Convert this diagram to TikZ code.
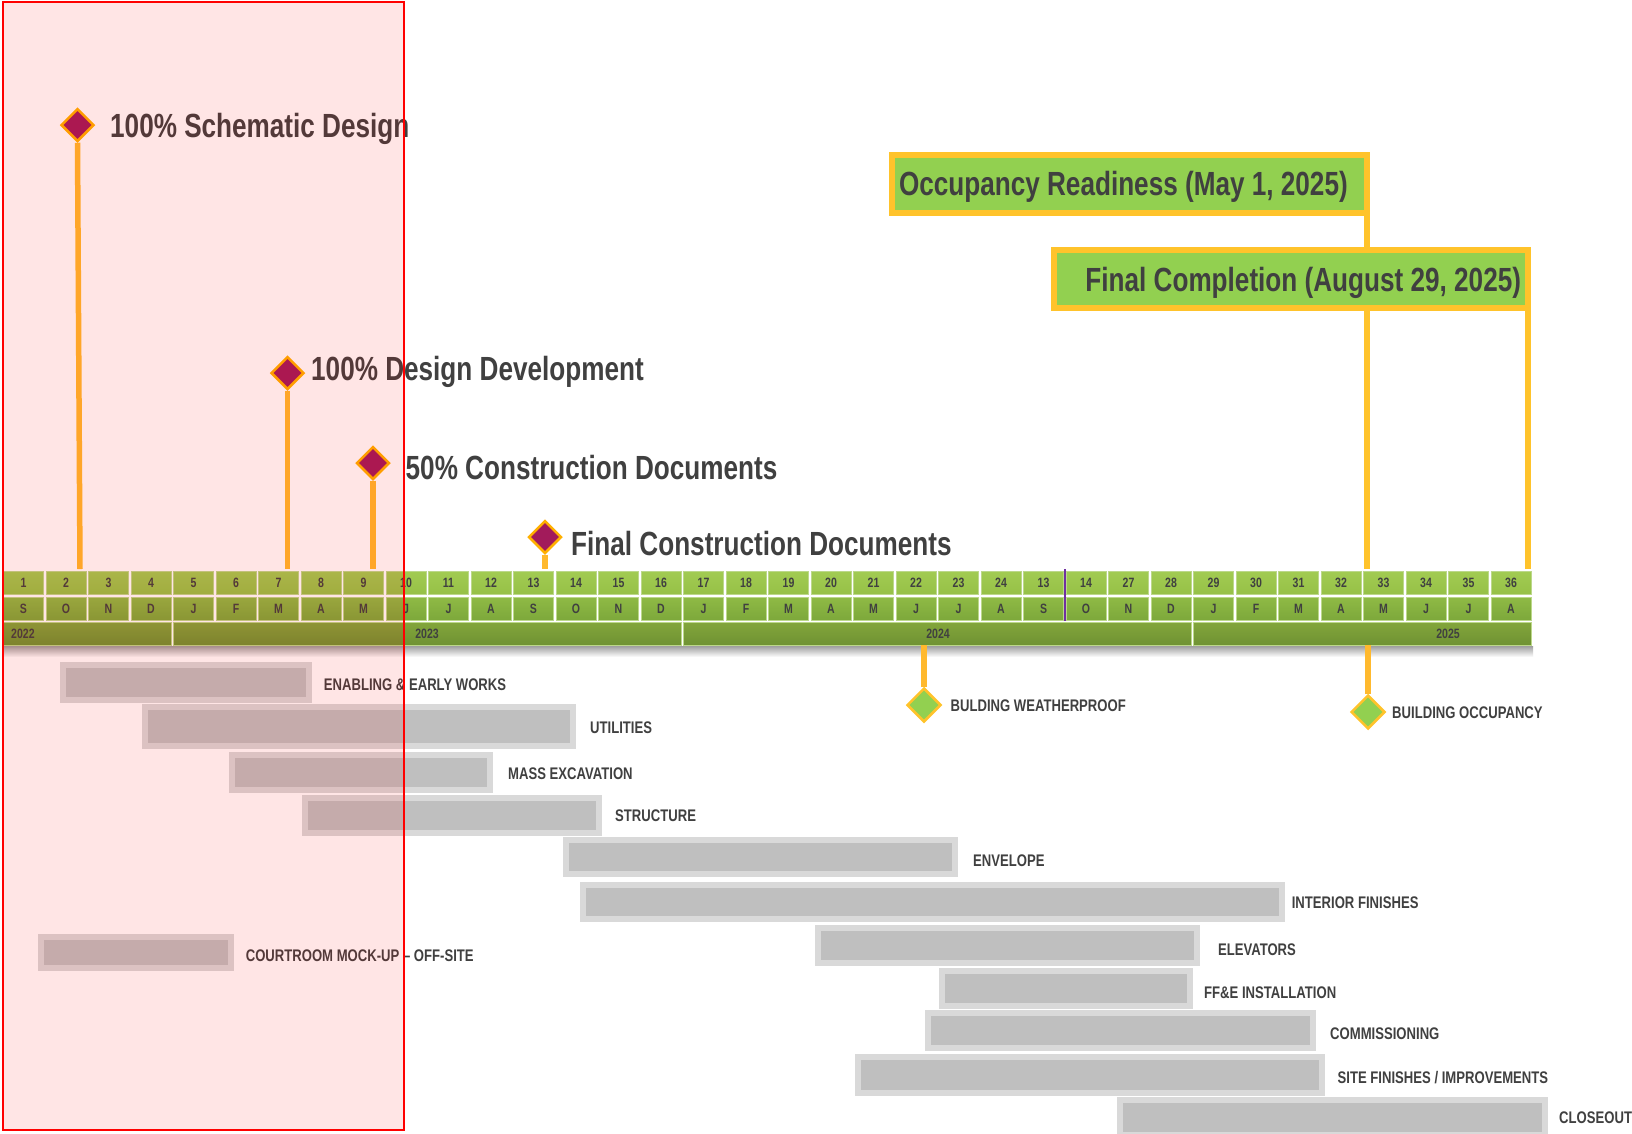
\documentclass[tikz,border=0pt]{standalone}
\usepackage{fontspec}
\usetikzlibrary{shapes.geometric}
\newfontfamily\narb[FakeStretch=0.78]{Liberation Sans Bold}
\definecolor{txt}{HTML}{404040}
\definecolor{purp}{HTML}{A21B5B}
\definecolor{orng}{HTML}{FFB000}
\definecolor{stemc}{HTML}{FFB92E}
\definecolor{boxo}{HTML}{FFC32B}
\definecolor{grn}{HTML}{92D050}
\definecolor{barin}{HTML}{BFBFBF}
\definecolor{barout}{HTML}{D9D9D9}
\definecolor{rAt}{HTML}{A2CB52}
\definecolor{rAb}{HTML}{96C147}
\definecolor{rBt}{HTML}{8FBA45}
\definecolor{rBb}{HTML}{7DA83B}
\definecolor{rCt}{HTML}{83A63B}
\definecolor{rCb}{HTML}{6F9233}
\definecolor{cellb}{HTML}{BCD88A}
\definecolor{divp}{HTML}{7030A0}
\begin{document}
\begin{tikzpicture}[x=1pt,y=-1pt,
  ms/.style={font={\narb\fontsize{33.5}{36}\selectfont}, text=txt, inner sep=0, anchor=base west},
  lab/.style={font={\narb\fontsize{16.8}{18}\selectfont}, text=txt, inner sep=0, anchor=base west},
  pdia/.style={diamond, aspect=1, fill=purp, draw=orng, line width=2.5, inner sep=0, minimum width=33, minimum height=33},
  gdia/.style={diamond, aspect=1, fill=grn, draw=boxo, line width=2.5, inner sep=0, minimum width=34, minimum height=34},
  stem/.style={draw=stemc, line width=5.5},
  conn/.style={draw=boxo, line width=5.5},
  bigbox/.style={rectangle, fill=grn, draw=boxo, line width=6, outer sep=0, inner ysep=0, inner xsep=7, minimum height=58,
     font={\narb\fontsize{33.5}{36}\selectfont}, text=txt},
  cellA/.style={rectangle, top color=rAt, bottom color=rAb, draw=cellb, line width=0.8, minimum width=40, minimum height=23, inner sep=0,
     font={\narb\fontsize{13.5}{14}\selectfont}, text=txt},
  cellB/.style={cellA, top color=rBt, bottom color=rBb},
  yearbar/.style={rectangle, top color=rCt, bottom color=rCb, draw=cellb, line width=0.8, minimum height=23, inner sep=0},
  yearlab/.style={font={\narb\fontsize{13.5}{14}\selectfont}, text=txt, inner sep=0},
  bar/.style={rectangle, fill=barin, draw=barout, line width=6, outer sep=0, inner sep=0}
]
\useasboundingbox (0,0) rectangle (1632,1133);
\fill[white] (0,0) rectangle (1632,1133);

% ---------- timeline ----------
\foreach \i/\n/\m in {1/1/S,2/2/O,3/3/N,4/4/D,5/5/J,6/6/F,7/7/M,8/8/A,9/9/M,10/10/J,11/11/J,12/12/A,13/13/S,14/14/O,15/15/N,16/16/D,17/17/J,18/18/F,19/19/M,20/20/A,21/21/M,22/22/J,23/23/J,24/24/A,25/13/S,26/14/O,27/27/N,28/28/D,29/29/J,30/30/F,31/31/M,32/32/A,33/33/M,34/34/J,35/35/J,36/36/A}{
  \pgfmathsetmacro\cx{23.5+(\i-1)*42.5}
  \node[cellA] (n\i) at (\cx,582.5) {\n};
  \node[cellB] (m\i) at (\cx,608.5) {\m};
}
\node[yearbar, minimum width=167.5] (y22) at (87.25,633.5) {};
\node[yearbar, minimum width=507.5] (y23) at (427.25,633.5) {};
\node[yearbar, minimum width=507.5] (y24) at (937.25,633.5) {};
\node[yearbar, minimum width=337.5] (y25) at (1362.25,633.5) {};
\node[yearlab, anchor=west] (t22) at (11,633.5) {2022};
\node[yearlab] (t23) at (427,633.5) {2023};
\node[yearlab] (t24) at (938,633.5) {2024};
\node[yearlab] (t25) at (1448,633.5) {2025};
\shade[top color=black!36, bottom color=white] (3.5,646.5) rectangle (1533,657);
\coordinate (dv1) at (1064.8,569);
\coordinate (dv2) at (1064.8,621);
\draw[divp, line width=2] (dv1) -- (dv2);

% ---------- upper milestones ----------
\coordinate (s1) at (80,569);
\coordinate (s2) at (287.5,569);
\coordinate (s3) at (373,569);
\coordinate (s4) at (545,569);
\node[pdia] (sd) at (77.5,125) {};
\node[pdia] (dd) at (287.5,373) {};
\node[pdia] (cd) at (373,463) {};
\node[pdia] (fc) at (545,537) {};
\draw[stem] (sd.south) -- (s1);
\draw[stem] (dd.south) -- (s2);
\draw[stem] (cd.south) -- (s3);
\draw[stem] (fc.south) -- (s4);
\node[ms] (sdt) at (110,137) {100\% Schematic Design};
\node[ms] (ddt) at (311,380) {100\% Design Development};
\node[ms] (cdt) at (405.5,479) {50\% Construction Documents};
\node[ms] (fct) at (571,555) {Final Construction Documents};

% ---------- completion boxes ----------
\node[bigbox, minimum width=475, text height=30, text depth=7.4] (occ) at (1129.5,183.7) {\makebox[461pt][l]{Occupancy Readiness (May 1, 2025)}};
\node[bigbox, minimum width=474, text height=33, text depth=7] (fin) at (1291,278.7) {\makebox[460pt][r]{Final Completion (August 29, 2025)}};
\coordinate (o1) at (1367,569);
\coordinate (o2) at (1528,569);
\draw[conn] (occ.south east) -- (occ.south east |- fin.north);
\draw[conn] (occ.south east |- fin.south) -- (o1);
\draw[conn] (fin.south east) -- (o2);

% ---------- lower milestones ----------
\coordinate (w0) at (924,645);
\coordinate (b0) at (1368,645);
\node[gdia] (wp) at (924,705) {};
\node[gdia] (bo) at (1368,712) {};
\draw[stem] (w0) -- (wp.north);
\draw[stem] (b0) -- (bo.north);
\node[lab] (wpt) at (950.4,711) {BULDING WEATHERPROOF};
\node[lab] (bot) at (1392,718) {BUILDING OCCUPANCY};

% ---------- gantt bars ----------
\node[bar, minimum width=245.6, minimum height=34.5] (b1) at (186.2,682.25) {};
\node[bar, minimum width=428.5, minimum height=39] (b2) at (358.75,726) {};
\node[bar, minimum width=257.5, minimum height=35] (b3) at (360.75,772) {};
\node[bar, minimum width=294.5, minimum height=35] (b4) at (451.75,815) {};
\node[bar, minimum width=388.5, minimum height=34.6] (b5) at (760.25,857.1) {};
\node[bar, minimum width=699.7, minimum height=34.4] (b6) at (932.55,901.8) {};
\node[bar, minimum width=379, minimum height=35] (b7) at (1007.5,945.5) {};
\node[bar, minimum width=247.9, minimum height=34.5] (b8) at (1065.75,988.25) {};
\node[bar, minimum width=384.7, minimum height=35.4] (b9) at (1120.65,1030.3) {};
\node[bar, minimum width=464, minimum height=36] (b10) at (1090,1075) {};
\node[bar, minimum width=425.5, minimum height=35] (b11) at (1332.25,1117.5) {};
\node[bar, minimum width=190.7, minimum height=31.4] (b12) at (135.85,952.3) {};
\node[lab] (l1) at (323.7,690.5) {ENABLING \& EARLY WORKS};
\node[lab] (l2) at (590,733.5) {UTILITIES};
\node[lab] (l3) at (508,779.5) {MASS EXCAVATION};
\node[lab] (l4) at (615,821.5) {STRUCTURE};
\node[lab] (l5) at (973,866) {ENVELOPE};
\node[lab] (l6) at (1291.6,908.5) {INTERIOR FINISHES};
\node[lab] (l7) at (1217.8,955) {ELEVATORS};
\node[lab] (l8) at (1204,998) {FF\&E INSTALLATION};
\node[lab] (l9) at (1330,1039.5) {COMMISSIONING};
\node[lab] (l10) at (1337.5,1083) {SITE FINISHES / IMPROVEMENTS};
\node[lab] (l11) at (1559,1123) {CLOSEOUT};
\node[lab] (l12) at (245.6,961.5) {COURTROOM MOCK-UP – OFF-SITE};

% ---------- highlight overlay ----------
\fill[red, opacity=0.1] (3,2) rectangle (404,1130);
\draw[red, line width=2.5] (3,2) rectangle (404,1130);
\end{tikzpicture}
\end{document}
